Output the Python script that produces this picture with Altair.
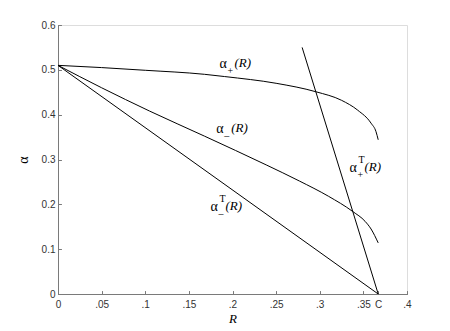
import altair as alt
import pandas as pd

# ---- data ----
C = 0.367

ap_R = [0.0, 0.05, 0.10, 0.168, 0.191, 0.25, 0.2958, 0.325, 0.3435, 0.3588, 0.3645, 0.367]
ap_a = [0.51, 0.505, 0.499, 0.490, 0.485, 0.470, 0.451, 0.432, 0.410, 0.381, 0.362, 0.344]

am_R = [0.0, 0.05, 0.105, 0.168, 0.2386, 0.2767, 0.31, 0.3378, 0.352, 0.3588, 0.367]
am_a = [0.51, 0.46, 0.408, 0.352, 0.288, 0.252, 0.218, 0.184, 0.162, 0.145, 0.114]

amT_R = [0.0, C]
amT_a = [0.51, 0.0]

apT_R = [0.2798, C]
apT_a = [0.55, 0.0]

x_ticks = [0, 0.05, 0.1, 0.15, 0.2, 0.25, 0.3, 0.35, C, 0.4]
y_ticks = [0, 0.1, 0.2, 0.3, 0.4, 0.5, 0.6]

lab_sub = ["+", "–", "–", "+"]
lab_sup = ["", "", "T", "T"]
lab_R = [0.185, 0.1814, 0.1748, 0.334]
lab_a = [0.504, 0.36, 0.186, 0.272]

# ---- tables ----
rows = []
for name, rs, als in [("ap", ap_R, ap_a), ("am", am_R, am_a),
                      ("amT", amT_R, amT_a), ("apT", apT_R, apT_a)]:
    for i, (r, a) in enumerate(zip(rs, als)):
        rows.append({"series": name, "R": r, "a": a, "o": i})
lines_df = pd.DataFrame(rows)
labels_df = pd.DataFrame({"R": lab_R, "a": lab_a, "sub": lab_sub, "sup": lab_sup})

GREY = "#7a7a7a"
xscale = alt.Scale(domain=[0, 0.4], nice=False, zero=False)
yscale = alt.Scale(domain=[0, 0.6], nice=False, zero=False)

x_label_expr = ("datum.value == 0 ? '0' : (abs(datum.value - %s) < 0.001 ? 'C' : "
                "replace(format(datum.value, '.2~f'), '0.', '.'))" % C)

x_axis = alt.Axis(values=x_ticks, labelExpr=x_label_expr, grid=False, tickSize=0,
                  domainColor=GREY, labelColor="#333333", labelFont="Liberation Sans",
                  labelFontSize=10, labelPadding=5, title="R", titleFont="Liberation Serif",
                  titleFontStyle="italic", titleFontWeight="normal", titleFontSize=13,
                  titlePadding=3, titleColor="black", labelFlush=False)
y_axis = alt.Axis(values=y_ticks, format=".1~f", grid=False, tickSize=0,
                  domainColor=GREY, labelColor="#333333", labelFont="Liberation Sans",
                  labelFontSize=10, labelPadding=3, title="α", titleFont="Liberation Serif",
                  titleFontWeight="normal", titleFontSize=14, titlePadding=11,
                  titleColor="black", labelFlush=False)

lines = alt.Chart(lines_df).mark_line(color="black", strokeWidth=1,
                                      interpolate="monotone").encode(
    x=alt.X("R:Q", scale=xscale, axis=x_axis),
    y=alt.Y("a:Q", scale=yscale, axis=y_axis),
    detail="series:N",
    order="o:Q",
)

# inward tick marks (second axes placed on the plot edges)
tick_x = alt.Axis(orient="top", offset=-269, values=x_ticks, labels=False, domain=False,
                  ticks=True, tickSize=3, tickColor=GREY, grid=False, title=None)
tick_y = alt.Axis(orient="right", offset=-349, values=y_ticks, labels=False, domain=False,
                  ticks=True, tickSize=3, tickColor=GREY, grid=False, title=None)

base_lab = alt.Chart(labels_df).encode(
    x=alt.X("R:Q", scale=xscale, axis=tick_x),
    y=alt.Y("a:Q", scale=yscale, axis=tick_y),
)
alpha_t = base_lab.mark_text(align="left", baseline="alphabetic", font="Liberation Serif",
                             fontSize=14, color="black").encode(text=alt.value("α"))
sub_t = base_lab.mark_text(align="left", baseline="alphabetic", font="Liberation Serif",
                           fontSize=10, dx=8, dy=6, color="black").encode(text="sub:N")
sup_t = base_lab.mark_text(align="left", baseline="alphabetic", font="Liberation Serif",
                           fontSize=10, dx=9, dy=-9, color="black").encode(text="sup:N")
r_t = base_lab.mark_text(align="left", baseline="alphabetic", font="Liberation Serif",
                         fontStyle="italic", fontSize=13, dx=15, dy=-1,
                         color="black").encode(text=alt.value("(R)"))

chart = alt.layer(lines, alpha_t, sub_t, sup_t, r_t).resolve_axis(
    x="independent", y="independent"
).properties(
    width=349, height=269,
    autosize=alt.AutoSizeParams(type="none"),
    padding={"left": 50, "top": 17, "right": 30, "bottom": 30},
).configure_view(stroke=None).configure(background="white")

chart.save("out.html", embed_options={"renderer": "svg", "actions": False})
